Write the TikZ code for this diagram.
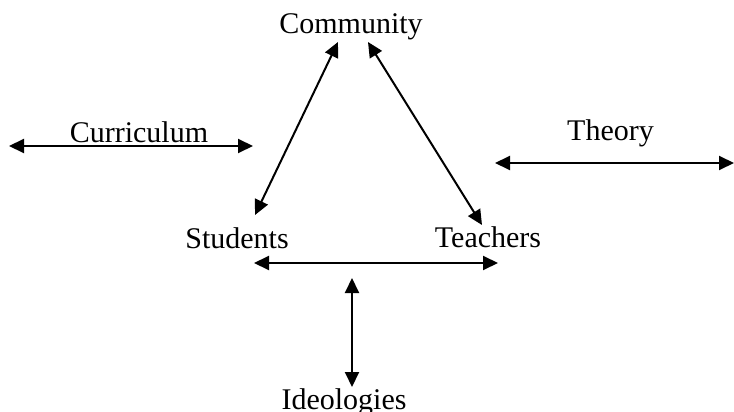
\documentclass[tikz,border=0pt]{standalone}
\usepackage{fontspec}
\setmainfont{Liberation Serif}
\usetikzlibrary{arrows.meta}
\begin{document}
\begin{tikzpicture}[x=1pt,y=-1pt,
  label/.style={anchor=base,inner sep=0pt,font=\fontsize{30}{36}\selectfont},
  link/.style={line width=2pt,{Triangle[length=15pt,width=14pt]}-{Triangle[length=15pt,width=14pt]}}]
\useasboundingbox (0,0) rectangle (734,412);
% labels
\node[label] (community) at (351,34) {Community};
\node[label] (students) at (237,248) {Students};
\node[label] (teachers) at (488,247) {Teachers};
\node[label] (ideologies) at (344,409) {Ideologies};
\node[label] (curriculum) at (139,142) {Curriculum};
\node[label] (theory) at (610.5,140) {Theory};
% connector ends
\coordinate (comL) at (338,42);
\coordinate (comR) at (368,42);
\coordinate (stuT) at (255,215);
\coordinate (teaT) at (482,225);
\coordinate (stuB) at (254,263);
\coordinate (teaB) at (498,263);
\coordinate (ideT) at (352,278);
\coordinate (ideB) at (352,387);
\coordinate (curL) at (9,146);
\coordinate (curR) at (253,146);
\coordinate (theL) at (495,163);
\coordinate (theR) at (734,163);
% connectors
\draw[link] (comL) -- (stuT);
\draw[link] (comR) -- (teaT);
\draw[link] (stuB) -- (teaB);
\draw[link] (ideT) -- (ideB);
\draw[link] (curL) -- (curR);
\draw[link] (theL) -- (theR);
\end{tikzpicture}
\end{document}
